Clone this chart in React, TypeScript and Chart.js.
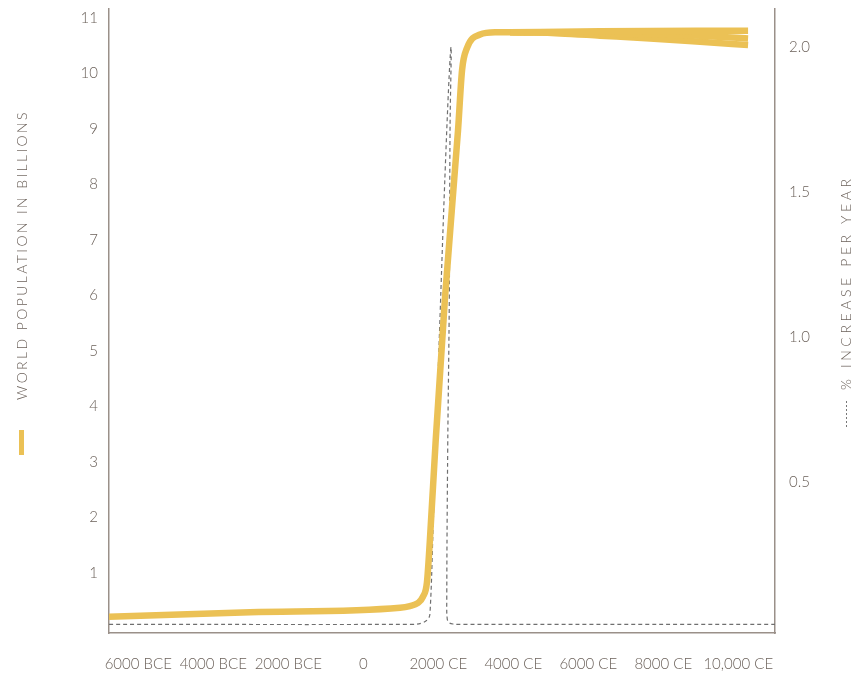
import React, { useEffect, useRef } from "react";
import { Chart, registerables } from "chart.js";

Chart.register(...registerables);

// X tick labels (years)
const xTickValues = [-6000, -4000, -2000, 0, 2000, 4000, 6000, 8000, 10000];
const xTickLabels = ["6000 BCE", "4000 BCE", "2000 BCE", "0", "2000 CE", "4000 CE", "6000 CE", "8000 CE", "10,000 CE"];
const leftTicks = [1, 2, 3, 4, 5, 6, 7, 8, 9, 10, 11];
const rightTicks = [0.5, 1.0, 1.5, 2.0];

// World population (billions) – history
const popYears = [-6780, -3019, 981, 1244, 1457, 1590, 1697, 1777, 1933, 2181, 2528, 2635, 2768, 3115, 3515, 3915];
const popValues = [0.213, 0.292, 0.374, 0.405, 0.46, 0.57, 0.82, 1.59, 3.4, 5.97, 8.98, 10.06, 10.46, 10.7, 10.74, 10.74];

// Projections
const highYears = [3915, 6315, 10262];
const highValues = [10.74, 10.76, 10.77];
const midYears = [3915, 5248, 6315, 8982, 10262];
const midValues = [10.74, 10.735, 10.72, 10.68, 10.63];
const lowYears = [3915, 4582, 5248, 6315, 7648, 8982, 10262];
const lowValues = [10.74, 10.735, 10.72, 10.68, 10.63, 10.57, 10.51];

// % increase per year
const rateYears = [-6780, 1327, 1567, 1727, 1780, 1860, 2020, 2227, 2341, 2314, 2295, 2252, 2227, 2240, 2288, 2394, 2581, 10980];
const rateValues = [0.0093, 0.0093, 0.0138, 0.0276, 0.048, 0.334, 0.966, 1.714, 2.0, 1.714, 1.138, 0.61, 0.093, 0.0276, 0.0155, 0.0103, 0.0093, 0.0093];

const YELLOW = "#EBC155";
const TEXT = "#6c625b";
const AXIS = "#9a9089";
const FONT = "Lato";

const toXY = (xs: number[], ys: number[]) => xs.map((x, i) => ({ x, y: ys[i] }));

const titlesPlugin = {
  id: "titles",
  afterDraw(chart: any) {
    const ctx = chart.ctx as CanvasRenderingContext2D;
    ctx.save();
    ctx.fillStyle = TEXT;
    ctx.font = `300 14px ${FONT}`;
    (ctx as any).letterSpacing = "2.4px";
    // left title
    ctx.save();
    ctx.translate(22, 255);
    ctx.rotate(-Math.PI / 2);
    ctx.textAlign = "center";
    ctx.textBaseline = "middle";
    ctx.fillText("WORLD POPULATION IN BILLIONS", 0, 0);
    ctx.restore();
    // left marker
    ctx.fillStyle = YELLOW;
    ctx.fillRect(19, 430, 5, 25);
    // right title
    ctx.fillStyle = TEXT;
    (ctx as any).letterSpacing = "3.6px";
    ctx.save();
    ctx.translate(846, 390);
    ctx.rotate(-Math.PI / 2);
    ctx.textAlign = "left";
    ctx.textBaseline = "middle";
    ctx.fillText("% INCREASE PER YEAR", 0, 0);
    ctx.restore();
    ctx.strokeStyle = "#777";
    ctx.lineWidth = 1;
    ctx.setLineDash([2, 2]);
    ctx.beginPath();
    ctx.moveTo(846.5, 427);
    ctx.lineTo(846.5, 399);
    ctx.stroke();
    ctx.restore();
  },
};

export default function App() {
  const ref = useRef<HTMLCanvasElement>(null);
  useEffect(() => {
    document.body.style.margin = "0";
    document.body.style.background = "#fff";
    const popStyle = {
      borderColor: YELLOW,
      borderWidth: 6.5,
      pointRadius: 0,
      cubicInterpolationMode: "monotone" as const,
      borderCapStyle: "butt" as const,
      yAxisID: "y",
    };
    const chart = new Chart(ref.current!, {
      type: "line",
      data: {
        datasets: [
          { ...popStyle, data: toXY(popYears, popValues) },
          { ...popStyle, data: toXY(highYears, highValues) },
          { ...popStyle, data: toXY(midYears, midValues) },
          { ...popStyle, data: toXY(lowYears, lowValues) },
          {
            data: toXY(rateYears, rateValues),
            borderColor: "#6f6f6f",
            borderWidth: 1.2,
            borderDash: [4, 3],
            pointRadius: 0,
            tension: 0.4,
            yAxisID: "y1",
          },
        ],
      },
      options: {
        animation: false,
        responsive: false,
        maintainAspectRatio: false,
        layout: { padding: { top: 9, left: 0, right: 0, bottom: 0 } },
        plugins: { legend: { display: false }, tooltip: { enabled: false } },
        scales: {
          x: {
            type: "linear",
            min: -6780,
            max: 10980,
            afterBuildTicks: (s: any) => {
              s.ticks = xTickValues.map((v) => ({ value: v }));
            },
            afterFit: (s: any) => {
              s.height = 44;
              s.paddingLeft = 0;
              s.paddingRight = 0;
            },
            ticks: {
              callback: (v: any) => {
                const i = xTickValues.indexOf(Number(v));
                return i >= 0 ? xTickLabels[i] : "";
              },
              color: TEXT,
              font: { family: FONT, size: 15, weight: "300" as any },
              padding: 22,
              maxRotation: 0,
              autoSkip: false,
            },
            grid: { display: false, drawTicks: false },
            border: { display: true, color: AXIS, width: 1.5 },
          },
          y: {
            position: "left",
            min: -0.081,
            max: 11.16,
            afterBuildTicks: (s: any) => {
              s.ticks = leftTicks.map((v) => ({ value: v }));
            },
            afterFit: (s: any) => {
              s.width = 109;
              s.paddingTop = 0;
              s.paddingBottom = 0;
            },
            ticks: {
              color: TEXT,
              font: { family: FONT, size: 15, weight: "300" as any },
              padding: 11,
            },
            grid: { display: false, drawTicks: false },
            border: { display: true, color: AXIS, width: 1.5 },
          },
          y1: {
            position: "right",
            min: -0.0207,
            max: 2.131,
            afterBuildTicks: (s: any) => {
              s.ticks = rightTicks.map((v) => ({ value: v }));
            },
            afterFit: (s: any) => {
              s.width = 83;
              s.paddingTop = 0;
              s.paddingBottom = 0;
            },
            ticks: {
              callback: (v: any) => Number(v).toFixed(1),
              color: TEXT,
              font: { family: FONT, size: 15, weight: "300" as any },
              padding: 14,
            },
            grid: { display: false, drawTicks: false },
            border: { display: true, color: AXIS, width: 1.5 },
          },
        },
      },
      plugins: [titlesPlugin],
    });
    return () => chart.destroy();
  }, []);
  return <canvas ref={ref} width={858} height={677} style={{ display: "block" }} />;
}
